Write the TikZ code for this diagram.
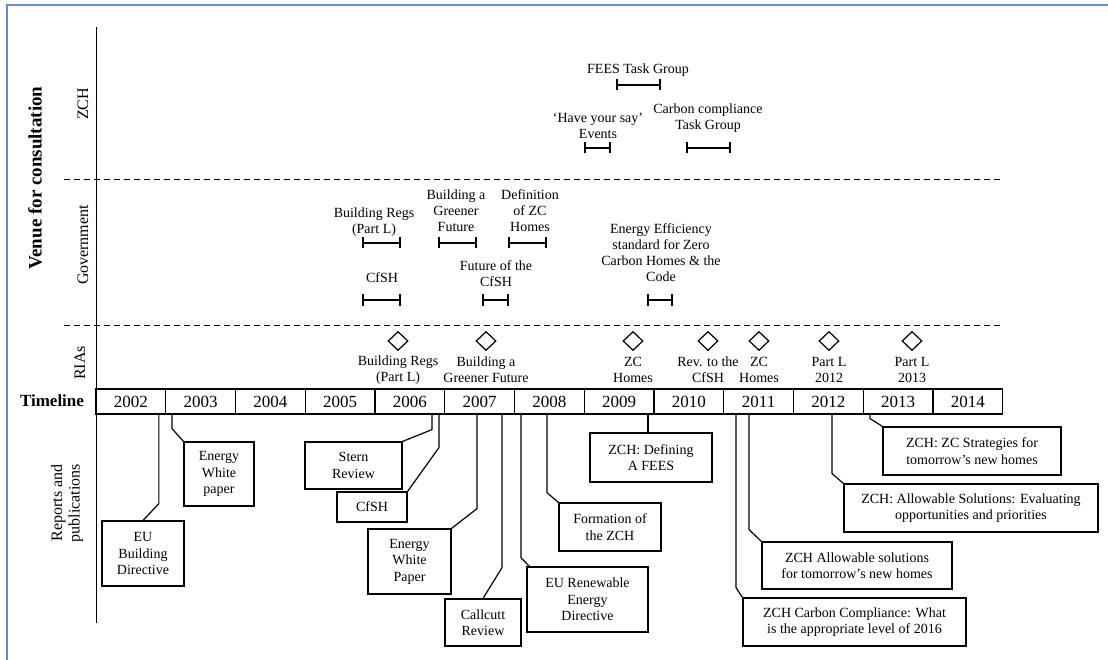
\documentclass[tikz,border=0pt]{standalone}
\usepackage{fontspec}
\setmainfont{Liberation Serif}
\usetikzlibrary{arrows.meta,shapes.geometric,calc}
\definecolor{framec}{RGB}{98,141,206}
\tikzset{
	every node/.style={font=\fontsize{14}{16}\selectfont, align=center, inner sep=0pt},
	yearbox/.style={draw, line width=1.2pt, minimum width=69.75pt, minimum height=25pt, font=\fontsize{17}{20}\selectfont},
	pubbox/.style={draw, line width=1.2pt, font=\fontsize{14}{16.5}\selectfont},
	link/.style={line width=1.2pt},
	span/.style={line width=1.8pt, arrows={Bar[width=11pt]-Bar[width=11pt]}},
	ria/.style={draw, diamond, line width=1.2pt, minimum width=20pt, minimum height=19pt},
	rowlabel/.style={rotate=90, font=\fontsize{16}{17.5}\selectfont},
	sep/.style={dash pattern=on 6pt off 4pt, line width=1pt}
}

\begin{document}
\begin{tikzpicture}[x=1pt,y=-1pt]
\useasboundingbox (0,0) rectangle (1108,660);
\draw[framec, line width=2pt] (1108,5.5) -- (7,5.5) -- (7,660);

% axis and rows
\draw[line width=1pt] (96,27) -- (96,623);
\draw[sep] (64,180) -- (1000,180);
\draw[sep] (64,325) -- (1000,325);
\node[rotate=90, font=\bfseries\fontsize{19}{21}\selectfont] (venue) at (35,178) {Venue for consultation};
\node[rowlabel] (lzch) at (83,104) {ZCH};
\node[rowlabel] (lgov) at (83,245) {Government};
\node[rowlabel] (lria) at (80,363) {RIAs};
\node[rowlabel] (lrep) at (67,503) {Reports and\\publications};
\node[font=\bfseries\fontsize{17}{20}\selectfont] (ltime) at (52,401) {Timeline};

% timeline
\foreach \yr [count=\i from 0] in {2002,...,2014}
	\node[yearbox] (y\yr) at ({130.875+69.75*\i},401.5) {\yr};

% ZCH
\node (feestg) at (638,70) {FEES Task Group};
\draw[span] (616,85) -- (661,85);
\node (hys) at (598,125.5) {‘Have your say’\\Events};
\draw[span] (584,148) -- (611,148);
\node (cctg) at (708,118.5) {Carbon compliance\\Task Group};
\draw[span] (686,148) -- (731,148);

% Government
\node (gregs) at (374,222) {Building Regs\\(Part L)};
\draw[span] (362,243) -- (401,243);
\node (gcfsh) at (382,278) {CfSH};
\draw[span] (362,300) -- (401,300);
\node (gbgf) at (456,211) {Building a\\Greener\\Future};
\draw[span] (438,243) -- (477,243);
\node (gdef) at (530,211) {Definition\\of ZC\\Homes};
\draw[span] (508,243) -- (547,243);
\node (gfut) at (496,274) {Future of the\\CfSH};
\draw[span] (482,300) -- (509,300);
\node (geff) at (661,253) {Energy Efficiency\\standard for Zero\\Carbon Homes \& the\\Code};
\draw[span] (647,300) -- (673,300);

% RIAs
\foreach \x/\nm/\txt in {398/r1/{Building Regs\\(Part L)}, 486/r2/{Building a\\Greener Future}, 633/r3/{ZC\\Homes}, 708/r4/{Rev. to the\\CfSH}, 759/r5/{ZC\\Homes}, 829/r6/{Part L\\2012}, 912/r7/{Part L\\2013}}{
	\node[ria] (\nm) at (\x,341) {};
	\node (\nm t) at (\x,370) {\txt};
}

% reports and publications
\node[pubbox, minimum width=82pt, minimum height=65pt] (eubd) at (143,553.5) {EU\\Building\\Directive};
\node[pubbox, minimum width=70pt, minimum height=64pt] (ewpa) at (219,474) {Energy\\White\\paper};
\node[pubbox, minimum width=97pt, minimum height=47pt] (stern) at (353.5,465.5) {Stern\\Review};
\node[pubbox, minimum width=70pt, minimum height=30pt] (pcfsh) at (372,507) {CfSH};
\node[pubbox, minimum width=83pt, minimum height=65pt] (ewpb) at (409.5,561.5) {Energy\\White\\Paper};
\node[pubbox, minimum width=76pt, minimum height=47pt] (callcutt) at (483,622.5) {Callcutt\\Review};
\node[pubbox, minimum width=121pt, minimum height=65pt] (eured) at (587.5,599.5) {EU Renewable\\Energy\\Directive};
\node[pubbox, minimum width=102pt, minimum height=48pt] (formzch) at (610,527) {Formation of\\the ZCH};
\node[pubbox, minimum width=122pt, minimum height=49pt] (deffees) at (651,457.5) {ZCH: Defining\\A FEES};
\node[pubbox, minimum width=178pt, minimum height=48pt] (zcstrat) at (972,451) {ZCH: ZC Strategies for\\tomorrow's new homes};
\node[pubbox, minimum width=254pt, minimum height=48pt] (alloweval) at (971,508) {ZCH: Allowable Solutions: Evaluating\\opportunities and priorities};
\node[pubbox, minimum width=190pt, minimum height=47pt] (allowsol) at (857,565.5) {ZCH Allowable solutions\\for tomorrow's new homes};
\node[pubbox, minimum width=223pt, minimum height=48pt] (carbcomp) at (854.5,622) {ZCH Carbon Compliance: What\\is the appropriate level of 2016};

\draw[link] ([xshift=28pt]y2002.south) -- ++(0,89) -- (eubd.north);
\draw[link] ([xshift=-28.6pt]y2003.south) -- ++(0,14) -- (ewpa.north west);
\draw[link] ([xshift=22.1pt]y2006.south) -- ++(0,15) -- (stern.north east);
\draw[link] ([xshift=29.1pt]y2006.south) -- ++(0,33) -- (pcfsh.north east);
\draw[link] ([xshift=-2.6pt]y2007.south) -- ++(0,94) -- (ewpb.north east);
\draw[link] ([xshift=22.4pt]y2007.south) -- ++(0,153) -- (callcutt.north);
\draw[link] ([xshift=-28.4pt]y2008.south) -- ++(0,143) -- ([xshift=3pt]eured.north west);
\draw[link] ([xshift=-2.4pt]y2008.south) -- ++(0,78) -- (formzch.north west);
\draw[link] ([xshift=28.9pt]y2009.south) coordinate (s9) -- (s9 |- deffees.north);
\draw[link] ([xshift=-28.1pt]y2013.south) -- ++(0,4) -- (zcstrat.north west);
\draw[link] ([xshift=3.6pt]y2012.south) -- ++(0,59) -- (alloweval.north west);
\draw[link] ([xshift=-9.6pt]y2011.south) -- ++(0,115) -- (allowsol.north west);
\draw[link] ([xshift=-22.6pt]y2011.south) -- ++(0,173) -- (carbcomp.north west);
\end{tikzpicture}
\end{document}
